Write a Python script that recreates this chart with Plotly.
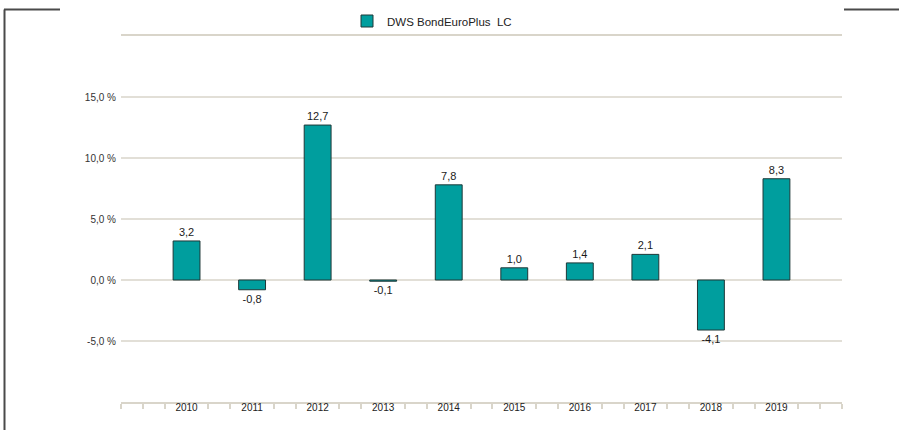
import plotly.graph_objects as go

years = ["2010", "2011", "2012", "2013", "2014", "2015", "2016", "2017", "2018", "2019"]
returns = [3.2, -0.8, 12.7, -0.1, 7.8, 1.0, 1.4, 2.1, -4.1, 8.3]
series_name = "DWS BondEuroPlus  LC"
y_tick_vals = [-5, 0, 5, 10, 15, 20]
y_tick_text = ["-5,0 %", "0,0 %", "5,0 %", "10,0 %", "15,0 %", ""]

W, H = 899, 430
L, R, T, B = 121, 57, 36, 28
pw, ph = W - L - R, H - T - B

def px_x(p):
    return (p - L) / pw

def px_y(p):
    return (H - B - p) / ph

xpos = list(range(len(years)))
labels = [f"{v:.1f}".replace(".", ",") for v in returns]

fig = go.Figure()
fig.add_trace(go.Bar(
    x=xpos, y=returns, name=series_name,
    width=0.41,
    marker=dict(color="#009e9e", line=dict(color="#1e3838", width=1)),
    text=labels, textposition="outside", cliponaxis=False,
    textfont=dict(family="Liberation Sans, Arial, sans-serif", size=11, color="#1a1a1a"),
))

grid_c = "#e2dfd7"
minor_vals = [i / 3 - 1 for i in range(0, 34) if i % 3 != 0 or i in (0, 33)]

fig.update_layout(
    width=W, height=H,
    margin=dict(l=L, r=R, t=T, b=B, autoexpand=False),
    paper_bgcolor="white", plot_bgcolor="white",
    separators=",.",
    font=dict(family="Liberation Sans, Arial, sans-serif", size=10, color="#333333"),
    showlegend=True,
    legend=dict(orientation="h", x=px_x(347), xanchor="left", y=1 + (T - 21) / ph, yanchor="middle",
                font=dict(size=11.5, color="#222222"), bgcolor="rgba(0,0,0,0)"),
    bargap=0.5,
    xaxis=dict(range=[-1, 10], tickmode="array", tickvals=xpos, ticktext=years,
               ticks="", showgrid=False, zeroline=False,
               showline=True, linecolor="#d9d5ca", linewidth=2, mirror=True,
               ticklabelstandoff=-5,
               tickfont=dict(size=10, color="#222222"),
               minor=dict(tickmode="array", tickvals=minor_vals, ticks="outside",
                          ticklen=5, tickcolor="#d9d5ca", tickwidth=1.5, showgrid=False)),
    yaxis=dict(range=[-10, 20], tickmode="array", tickvals=y_tick_vals, ticktext=y_tick_text,
               showgrid=True, gridcolor=grid_c, gridwidth=1.5,
               zeroline=True, zerolinecolor=grid_c, zerolinewidth=1.5,
               ticks="", ticklabelstandoff=4,
               tickfont=dict(size=10, color="#333333")),
)

frame_c = "#4a4a4a"
fig.add_shape(type="line", xref="paper", yref="paper",
              x0=px_x(4.5), x1=px_x(4.5), y0=px_y(9.5), y1=px_y(431), line=dict(color=frame_c, width=2))
fig.add_shape(type="line", xref="paper", yref="paper",
              x0=px_x(4), x1=px_x(60), y0=px_y(9.5), y1=px_y(9.5), line=dict(color=frame_c, width=2))
fig.add_shape(type="line", xref="paper", yref="paper",
              x0=px_x(844), x1=px_x(900), y0=px_y(9.5), y1=px_y(9.5), line=dict(color=frame_c, width=2))

fig.write_html("out.html", config={"displayModeBar": False},
               post_script="document.body.style.margin='0';")
